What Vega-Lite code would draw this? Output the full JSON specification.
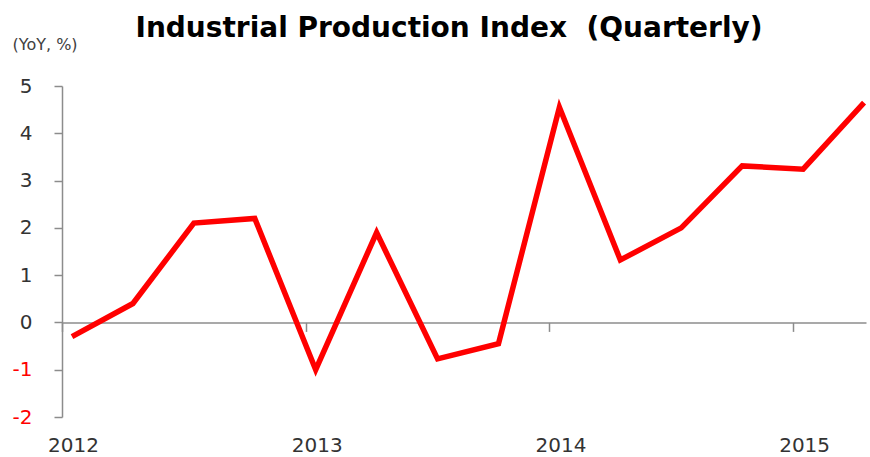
{
  "$schema": "https://vega.github.io/schema/vega-lite/v6.json",
  "autosize": "none",
  "width": 804,
  "height": 331,
  "padding": {"left": 62, "top": 86, "right": 4, "bottom": 40},
  "background": "white",
  "config": {"view": {"stroke": null}, "font": "DejaVu Sans"},
  "title": {
    "text": "Industrial Production Index\u00a0 (Quarterly)",
    "font": "DejaVu Sans",
    "fontSize": 28,
    "fontWeight": "bold",
    "color": "#000000",
    "anchor": "middle",
    "dx": -15,
    "baseline": "alphabetic",
    "offset": -29
  },
  "data": {
    "values": [
      {"t": 2012.0, "v": -0.3},
      {"t": 2012.25, "v": 0.4},
      {"t": 2012.5, "v": 2.1},
      {"t": 2012.75, "v": 2.2},
      {"t": 2013.0, "v": -1.0},
      {"t": 2013.25, "v": 1.9},
      {"t": 2013.5, "v": -0.77},
      {"t": 2013.75, "v": -0.45},
      {"t": 2014.0, "v": 4.55},
      {"t": 2014.25, "v": 1.32},
      {"t": 2014.5, "v": 2.0},
      {"t": 2014.75, "v": 3.31},
      {"t": 2015.0, "v": 3.24},
      {"t": 2015.25, "v": 4.65}
    ]
  },
  "mark": {"type": "line", "color": "#FF0000", "strokeWidth": 5.5, "clip": false},
  "encoding": {
    "x": {
      "field": "t",
      "type": "quantitative",
      "scale": {"domain": [2011.959, 2015.258], "nice": false, "zero": false},
      "axis": {
        "title": null,
        "values": [2012, 2013, 2014, 2015],
        "format": "d",
        "grid": false,
        "offset": -94.6,
        "domainColor": "#8c8c8c",
        "domainWidth": 1.5,
        "tickColor": "#8c8c8c",
        "tickWidth": 1.5,
        "tickSize": 9,
        "tickOffset": -10,
        "labelOffset": 11,
        "labelPadding": 104,
        "labelFont": "DejaVu Sans",
        "labelFontSize": 20,
        "labelColor": "#333333",
        "labelFlush": false,
        "labelOverlap": false
      }
    },
    "y": {
      "field": "v",
      "type": "quantitative",
      "scale": {"domain": [-2, 5], "nice": false, "zero": false},
      "axis": {
        "title": "(YoY, %)",
        "titleAngle": 0,
        "titleAlign": "left",
        "titleBaseline": "alphabetic",
        "titleX": -50,
        "titleY": -37,
        "titleFont": "DejaVu Sans",
        "titleFontSize": 16,
        "titleFontWeight": "normal",
        "titleColor": "#404040",
        "values": [-2, -1, 0, 1, 2, 3, 4, 5],
        "labelExpr": "datum.value < 0 ? '-' + abs(datum.value) : '' + datum.value",
        "grid": false,
        "domainColor": "#8c8c8c",
        "domainWidth": 1.5,
        "tickColor": "#8c8c8c",
        "tickWidth": 1.5,
        "tickSize": 8,
        "labelPadding": 22,
        "labelFont": "DejaVu Sans",
        "labelFontSize": 20,
        "labelColor": {"expr": "datum.value < 0 ? '#FF0000' : '#333333'"},
        "labelFlush": false,
        "labelOverlap": false
      }
    }
  }
}
